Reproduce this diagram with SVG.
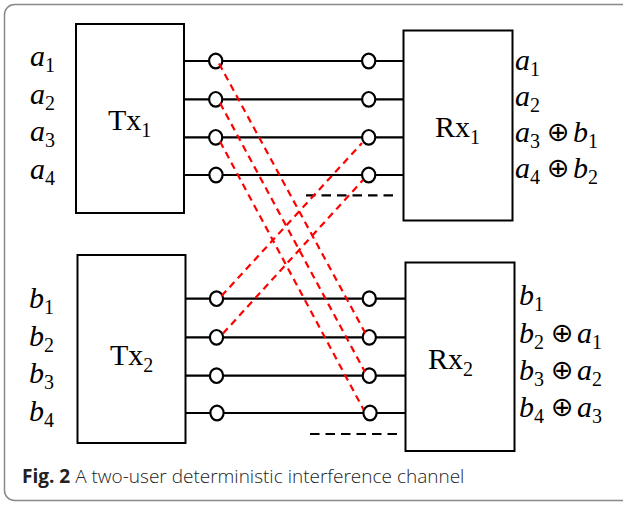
<svg xmlns="http://www.w3.org/2000/svg" width="623" height="505" viewBox="0 0 623 505">
<style>
.box{fill:none;stroke:#000;stroke-width:2}
.wire{stroke:#000;stroke-width:2.2;fill:none}
.node{fill:#fff;stroke:#000;stroke-width:2.2}
.red{stroke:#f00;stroke-width:2.2;stroke-dasharray:7 5;fill:none}
.blk{stroke:#000;stroke-width:2.2;stroke-dasharray:9.5 6;fill:none}
.lbl{font-family:"Liberation Serif","Times New Roman",serif;font-size:30px;font-style:italic;fill:#000}
.sub{font-style:normal;font-size:20px}
.op{font-family:"DejaVu Sans",sans-serif;font-style:normal;font-size:27px}
.name{font-family:"Liberation Serif","Times New Roman",serif;font-size:30px;fill:#000}
.cap{font-family:"Open Sans",sans-serif;font-size:19px;fill:#222}
</style>
<rect x="4.5" y="4.5" width="640" height="496" rx="10" fill="#fff" stroke="#888" stroke-width="1.5"/>

<g id="tx1">
<rect class="box" x="76" y="24" width="108" height="189"/>
<text class="name" x="108" y="129.5">Tx<tspan class="sub" dy="7.5">1</tspan></text>
<text class="lbl" x="30" y="66">a<tspan class="sub" dy="6">1</tspan></text>
<text class="lbl" x="30" y="103.5">a<tspan class="sub" dy="6">2</tspan></text>
<text class="lbl" x="30" y="141">a<tspan class="sub" dy="6">3</tspan></text>
<text class="lbl" x="30" y="178.5">a<tspan class="sub" dy="6">4</tspan></text>
</g>

<g id="tx2">
<rect class="box" x="77.5" y="255" width="108" height="188"/>
<text class="name" x="110" y="365">Tx<tspan class="sub" dy="7">2</tspan></text>
<text class="lbl" x="29" y="307.5">b<tspan class="sub" dy="6">1</tspan></text>
<text class="lbl" x="29" y="345.5">b<tspan class="sub" dy="6">2</tspan></text>
<text class="lbl" x="29" y="383">b<tspan class="sub" dy="6">3</tspan></text>
<text class="lbl" x="29" y="420.5">b<tspan class="sub" dy="6">4</tspan></text>
</g>

<g id="rx1">
<rect class="box" x="403.5" y="30.5" width="109" height="190"/>
<text class="name" x="435" y="137">Rx<tspan class="sub" dy="7">1</tspan></text>
<text class="lbl" x="515" y="70">a<tspan class="sub" dy="6">1</tspan></text>
<text class="lbl" x="515" y="105.5">a<tspan class="sub" dy="6">2</tspan></text>
<text class="lbl" x="515" y="141.5">a<tspan class="sub" dy="6">3</tspan><tspan class="op" x="547" dy="-7">⊕</tspan><tspan x="573" dy="1">b</tspan><tspan class="sub" dy="6">1</tspan></text>
<text class="lbl" x="515" y="178">a<tspan class="sub" dy="6">4</tspan><tspan class="op" x="547" dy="-7">⊕</tspan><tspan x="573" dy="1">b</tspan><tspan class="sub" dy="6">2</tspan></text>
</g>

<g id="rx2">
<rect class="box" x="405.5" y="262.5" width="109" height="188.5"/>
<text class="name" x="428" y="368.5">Rx<tspan class="sub" dy="7">2</tspan></text>
<text class="lbl" x="519" y="305">b<tspan class="sub" dy="6">1</tspan></text>
<text class="lbl" x="519" y="342.5">b<tspan class="sub" dy="6">2</tspan><tspan class="op" x="551" dy="-7">⊕</tspan><tspan x="577" dy="1">a</tspan><tspan class="sub" dy="6">1</tspan></text>
<text class="lbl" x="519" y="380">b<tspan class="sub" dy="6">3</tspan><tspan class="op" x="551" dy="-7">⊕</tspan><tspan x="577" dy="1">a</tspan><tspan class="sub" dy="6">2</tspan></text>
<text class="lbl" x="519" y="417">b<tspan class="sub" dy="6">4</tspan><tspan class="op" x="551" dy="-7">⊕</tspan><tspan x="577" dy="1">a</tspan><tspan class="sub" dy="6">3</tspan></text>
</g>

<g id="connectors">
<path class="wire" d="M184 61H403.5M184 99.3H403.5M184 137.3H403.5M184 175H403.5"/>
<path class="wire" d="M185.5 298.7H405.5M185.5 337.3H405.5M185.5 375.7H405.5M185.5 413H405.5"/>
<path class="blk" d="M306 195.3H399"/>
<path class="blk" d="M310 434H403"/>
<g>
<ellipse class="node" cx="215.7" cy="61" rx="6.6" ry="7.3"/>
<ellipse class="node" cx="215.7" cy="99.3" rx="6.6" ry="7.3"/>
<ellipse class="node" cx="215.7" cy="137.3" rx="6.6" ry="7.3"/>
<ellipse class="node" cx="216" cy="175" rx="6.6" ry="7.3"/>
<ellipse class="node" cx="368.7" cy="61" rx="6.6" ry="7.3"/>
<ellipse class="node" cx="368.7" cy="99.3" rx="6.6" ry="7.3"/>
<ellipse class="node" cx="368.7" cy="137.3" rx="6.6" ry="7.3"/>
<ellipse class="node" cx="368.7" cy="175" rx="6.6" ry="7.3"/>
<ellipse class="node" cx="216.5" cy="298.7" rx="6.6" ry="7.3"/>
<ellipse class="node" cx="216.5" cy="337.3" rx="6.6" ry="7.3"/>
<ellipse class="node" cx="216.5" cy="375.7" rx="6.6" ry="7.3"/>
<ellipse class="node" cx="217" cy="413" rx="6.6" ry="7.3"/>
<ellipse class="node" cx="369.3" cy="298.7" rx="6.6" ry="7.3"/>
<ellipse class="node" cx="369.3" cy="337.3" rx="6.6" ry="7.3"/>
<ellipse class="node" cx="369.3" cy="375.7" rx="6.6" ry="7.3"/>
<ellipse class="node" cx="370" cy="413" rx="6.6" ry="7.3"/>
</g>
<path class="red" d="M219 63.5L365.5 333.5"/>
<path class="red" d="M220 103L365 372"/>
<path class="red" d="M220 141.5L363.5 409.5"/>
<path class="red" d="M221.5 296L362 143"/>
<path class="red" d="M223 333.5L363 180"/>
</g>

<text class="cap" x="22" y="483"><tspan font-weight="bold">Fig. 2</tspan> <tspan font-weight="300">A two-user deterministic interference channel</tspan></text>
</svg>
